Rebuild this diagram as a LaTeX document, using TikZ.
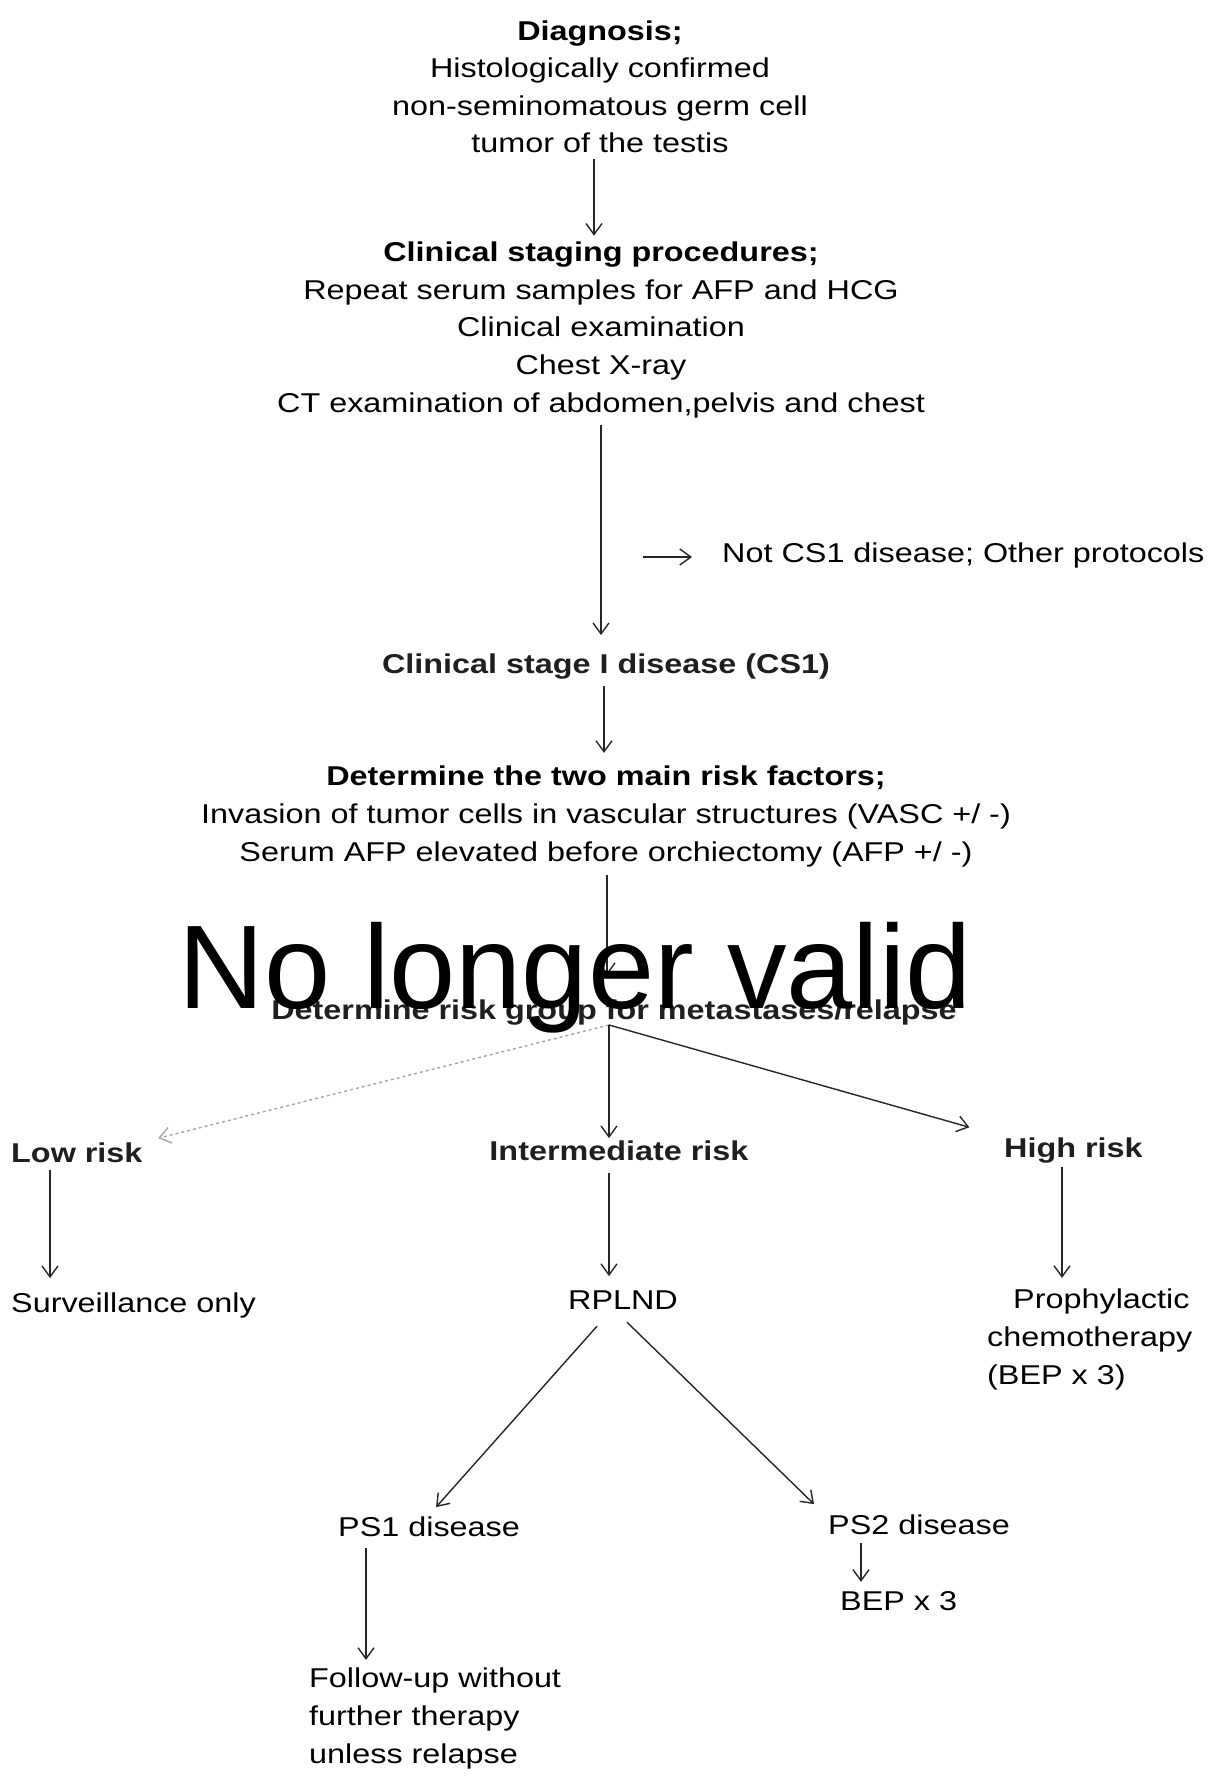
\documentclass[tikz,border=0pt]{standalone}
\usepackage{fontspec}
\setmainfont{Liberation Sans}[FakeStretch=1.19]
\newfontfamily\stampfont{Liberation Sans}
\usetikzlibrary{arrows.meta}
\newcommand{\chartfont}{\fontsize{27.2}{37.6}\selectfont}

\begin{document}
\begin{tikzpicture}[x=1pt, y=-1pt,
    every node/.style={inner sep=0pt, font=\chartfont, text=black, anchor=base},
    head/.style={font=\chartfont\bfseries, text=black!88},
    link/.style={-{Straight Barb[length=11pt,width=16pt]}, line width=1.4pt, black!85}]
    \useasboundingbox (0,0) rectangle (1209,1776);

    % top of the chart
    \node[align=center] (diag) at (600,153) {\textbf{Diagnosis;}\\Histologically confirmed\\non-seminomatous germ cell\\tumor of the testis};
    \node[align=center] (staging) at (601,412) {\textbf{Clinical staging procedures;}\\Repeat serum samples for AFP and HCG\\Clinical examination\\Chest X-ray\\CT examination of abdomen,pelvis and chest};
    \node[anchor=base west] (notcs) at (722,562) {Not CS1 disease; Other protocols};
    \node[head] (cs1) at (606,673) {Clinical stage I disease (CS1)};
    \node[align=center] (factors) at (606,861) {\textbf{Determine the two main risk factors;}\\Invasion of tumor cells in vascular structures (VASC +/ -)\\Serum AFP elevated before orchiectomy (AFP +/ -)};
    \node[head] (riskgrp) at (614,1019) {Determine risk group for metastases/relapse};
    \coordinate (split) at (643,557);
    \coordinate (fork) at ([xshift=-5pt]riskgrp.south);

    % risk groups
    \node[head, anchor=base west] (low) at (11,1162) {Low risk};
    \node[head] (inter) at (619,1160) {Intermediate risk};
    \node[head, anchor=base west] (high) at (1004,1157) {High risk};
    \node[anchor=base west] (surv) at (11,1312) {Surveillance only};
    \node (rplnd) at (623,1309) {RPLND};
    \node[anchor=base west, align=left] (proph) at (987,1384) {\hspace*{26pt}Prophylactic\\chemotherapy\\(BEP x 3)};
    \node[anchor=base west] (ps1) at (338,1536) {PS1 disease};
    \node[anchor=base west] (ps2) at (828,1534) {PS2 disease};
    \node[anchor=base west] (bep) at (840,1610) {BEP x 3};
    \node[anchor=base west, align=left] (follow) at (309,1763) {Follow-up without\\further therapy\\unless relapse};

    \draw[link, shorten <=6pt, shorten >=6pt] ([xshift=-6pt]diag.south) -- ([xshift=-7pt]staging.north);
    \draw[link, shorten <=7pt, shorten >=18pt] (staging.south) -- (staging.south |- cs1.north);
    \draw[link, shorten >=30pt] (split) -- (split -| notcs.west);
    \draw[link, shorten <=7pt, shorten >=13pt] ([xshift=-2pt]cs1.south) -- ([xshift=-2pt]cs1.south |- factors.north);
    \draw[link, shorten <=8pt, shorten >=24pt] ([xshift=1pt]factors.south) -- ([xshift=1pt]factors.south |- riskgrp.north);

    \draw[link, gray!70, dashed, shorten >=16pt] (fork) -- (low.north east);
    \draw[link, shorten >=2pt] (fork) -- (fork |- inter.north);
    \draw[link, shorten >=36pt] (fork) -- (high.north west);

    \draw[link, shorten <=8pt, shorten >=14pt] ([xshift=39pt]low.south west) -- ([xshift=39pt]surv.north west);
    \draw[link, shorten <=13pt, shorten >=14pt] (fork |- inter.south) -- (fork |- rplnd.north);
    \draw[link, shorten <=4pt, shorten >=11pt] ([xshift=58pt]high.south west) -- ([xshift=75pt]proph.north west);
    \draw[link] ([xshift=-26pt,yshift=-17pt]rplnd.south) -- ([xshift=7pt,yshift=9pt]ps1.north);
    \draw[link] ([xshift=4pt,yshift=-13pt]rplnd.south) -- ([xshift=-14pt,yshift=10pt]ps2.north west);
    \draw[link] ([xshift=33pt,yshift=-9pt]ps2.south west) -- ([xshift=21pt,yshift=9pt]bep.north west);
    \draw[link] ([xshift=28pt,yshift=-12pt]ps1.south west) -- ([xshift=57pt,yshift=8pt]follow.north west);

    % overprint
    \node[anchor=base west, font=\stampfont\fontsize{119}{119}\selectfont, text=black] (stamp) at (178,1008) {No longer valid};
\end{tikzpicture}
\end{document}
